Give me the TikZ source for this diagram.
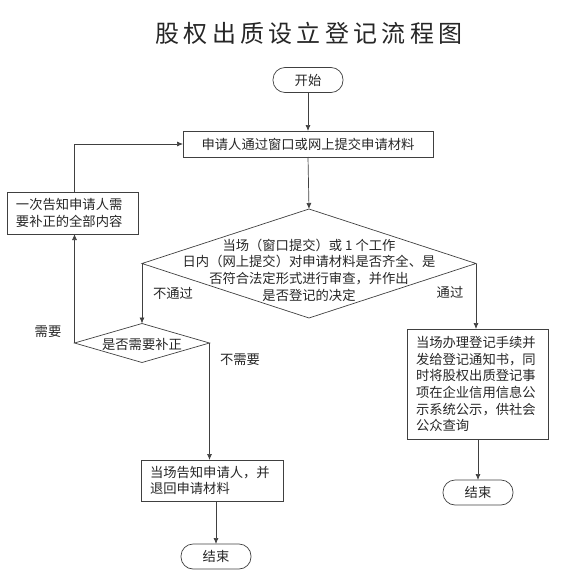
\documentclass[tikz,border=0pt]{standalone}
\usepackage{fontspec}
\setmainfont{Noto Sans CJK SC}
\newfontfamily\titlefont[LetterSpace=18]{Noto Sans CJK SC}
\usetikzlibrary{shapes.geometric,arrows.meta}
\tikzset{
  ln/.style={draw=black!75, line width=0.7pt},
  arr/.style={ln, -{Latex[length=6pt,width=5pt]}},
  bodyfont/.style={font=\fontsize{13.3}{16.7}\selectfont, text=black!85},
  box/.style={ln, bodyfont, inner sep=0pt, outer sep=0pt},
  lbox/.style={box, align=left, inner xsep=9pt},
  term/.style={box, rounded corners=12pt, minimum width=70pt, minimum height=25pt},
  dia/.style={ln, shape=diamond, inner sep=0pt, outer sep=0pt},
  lab/.style={bodyfont, inner sep=0pt}
}
\begin{document}
\begin{tikzpicture}[x=1pt,y=-1pt]
\useasboundingbox (0,0) rectangle (576,578);
\node[font=\titlefont\fontsize{24}{24}\selectfont, text=black!85] (title) at (309,33) {股权出质设立登记流程图};

\node[term] (start) at (308,80) {开始};
\node[box, minimum width=250pt, minimum height=26pt] (b1) at (308,144) {申请人通过窗口或网上提交申请材料};
\node[dia, minimum width=334pt, minimum height=109pt] (d1) at (309,263.5) {};
\node[bodyfont, align=center, inner sep=0pt] (d1t) at (309,270) {当场（窗口提交）或 1 个工作\\日内（网上提交）对申请材料是否齐全、是\\否符合法定形式进行审查，并作出\\是否登记的决定};
\node[lbox, text width=113pt, minimum height=42pt] (lb) at (72.5,213) {一次告知申请人需\\要补正的全部内容};
\node[dia, minimum width=135pt, minimum height=39pt] (d2) at (142,343) {};
\node[bodyfont, inner sep=0pt] (d2t) at (142,344.5) {是否需要补正};
\node[lbox, text width=124pt, minimum height=41pt] (b3) at (212,480.5) {当场告知申请人，并\\退回申请材料};
\node[term] (e1) at (216,556.5) {结束};
\node[lbox, text width=123pt, minimum height=110pt] (rb) at (477.5,384) {当场办理登记手续并\\发给登记通知书，同\\时将股权出质登记事\\项在企业信用信息公\\示系统公示，供社会\\公众查询};
\node[term] (e2) at (478,492.5) {结束};

\node[lab] (l1) at (173,293) {不通过};
\node[lab] (l2) at (48,332) {需要};
\node[lab] (l3) at (240,360) {不需要};
\node[lab] (l4) at (450,292) {通过};

\draw[arr] (start.south) -- (b1.north);
\draw[arr] (b1.south) -- (d1.north);
\draw[arr] (d1.west) -- (d1.west |- d2.north);
\draw[arr] (d2.west) -- (d2.west |- lb.south);
\draw[arr] (d2.west |- lb.north) |- (b1.west);
\draw[arr] (d2.east) -- (d2.east |- b3.north);
\draw[arr] (e1.north |- b3.south) -- (e1.north);
\draw[arr] (d1.east) -- (d1.east |- rb.north);
\draw[arr] (e2.north |- rb.south) -- (e2.north);
\end{tikzpicture}
\end{document}
